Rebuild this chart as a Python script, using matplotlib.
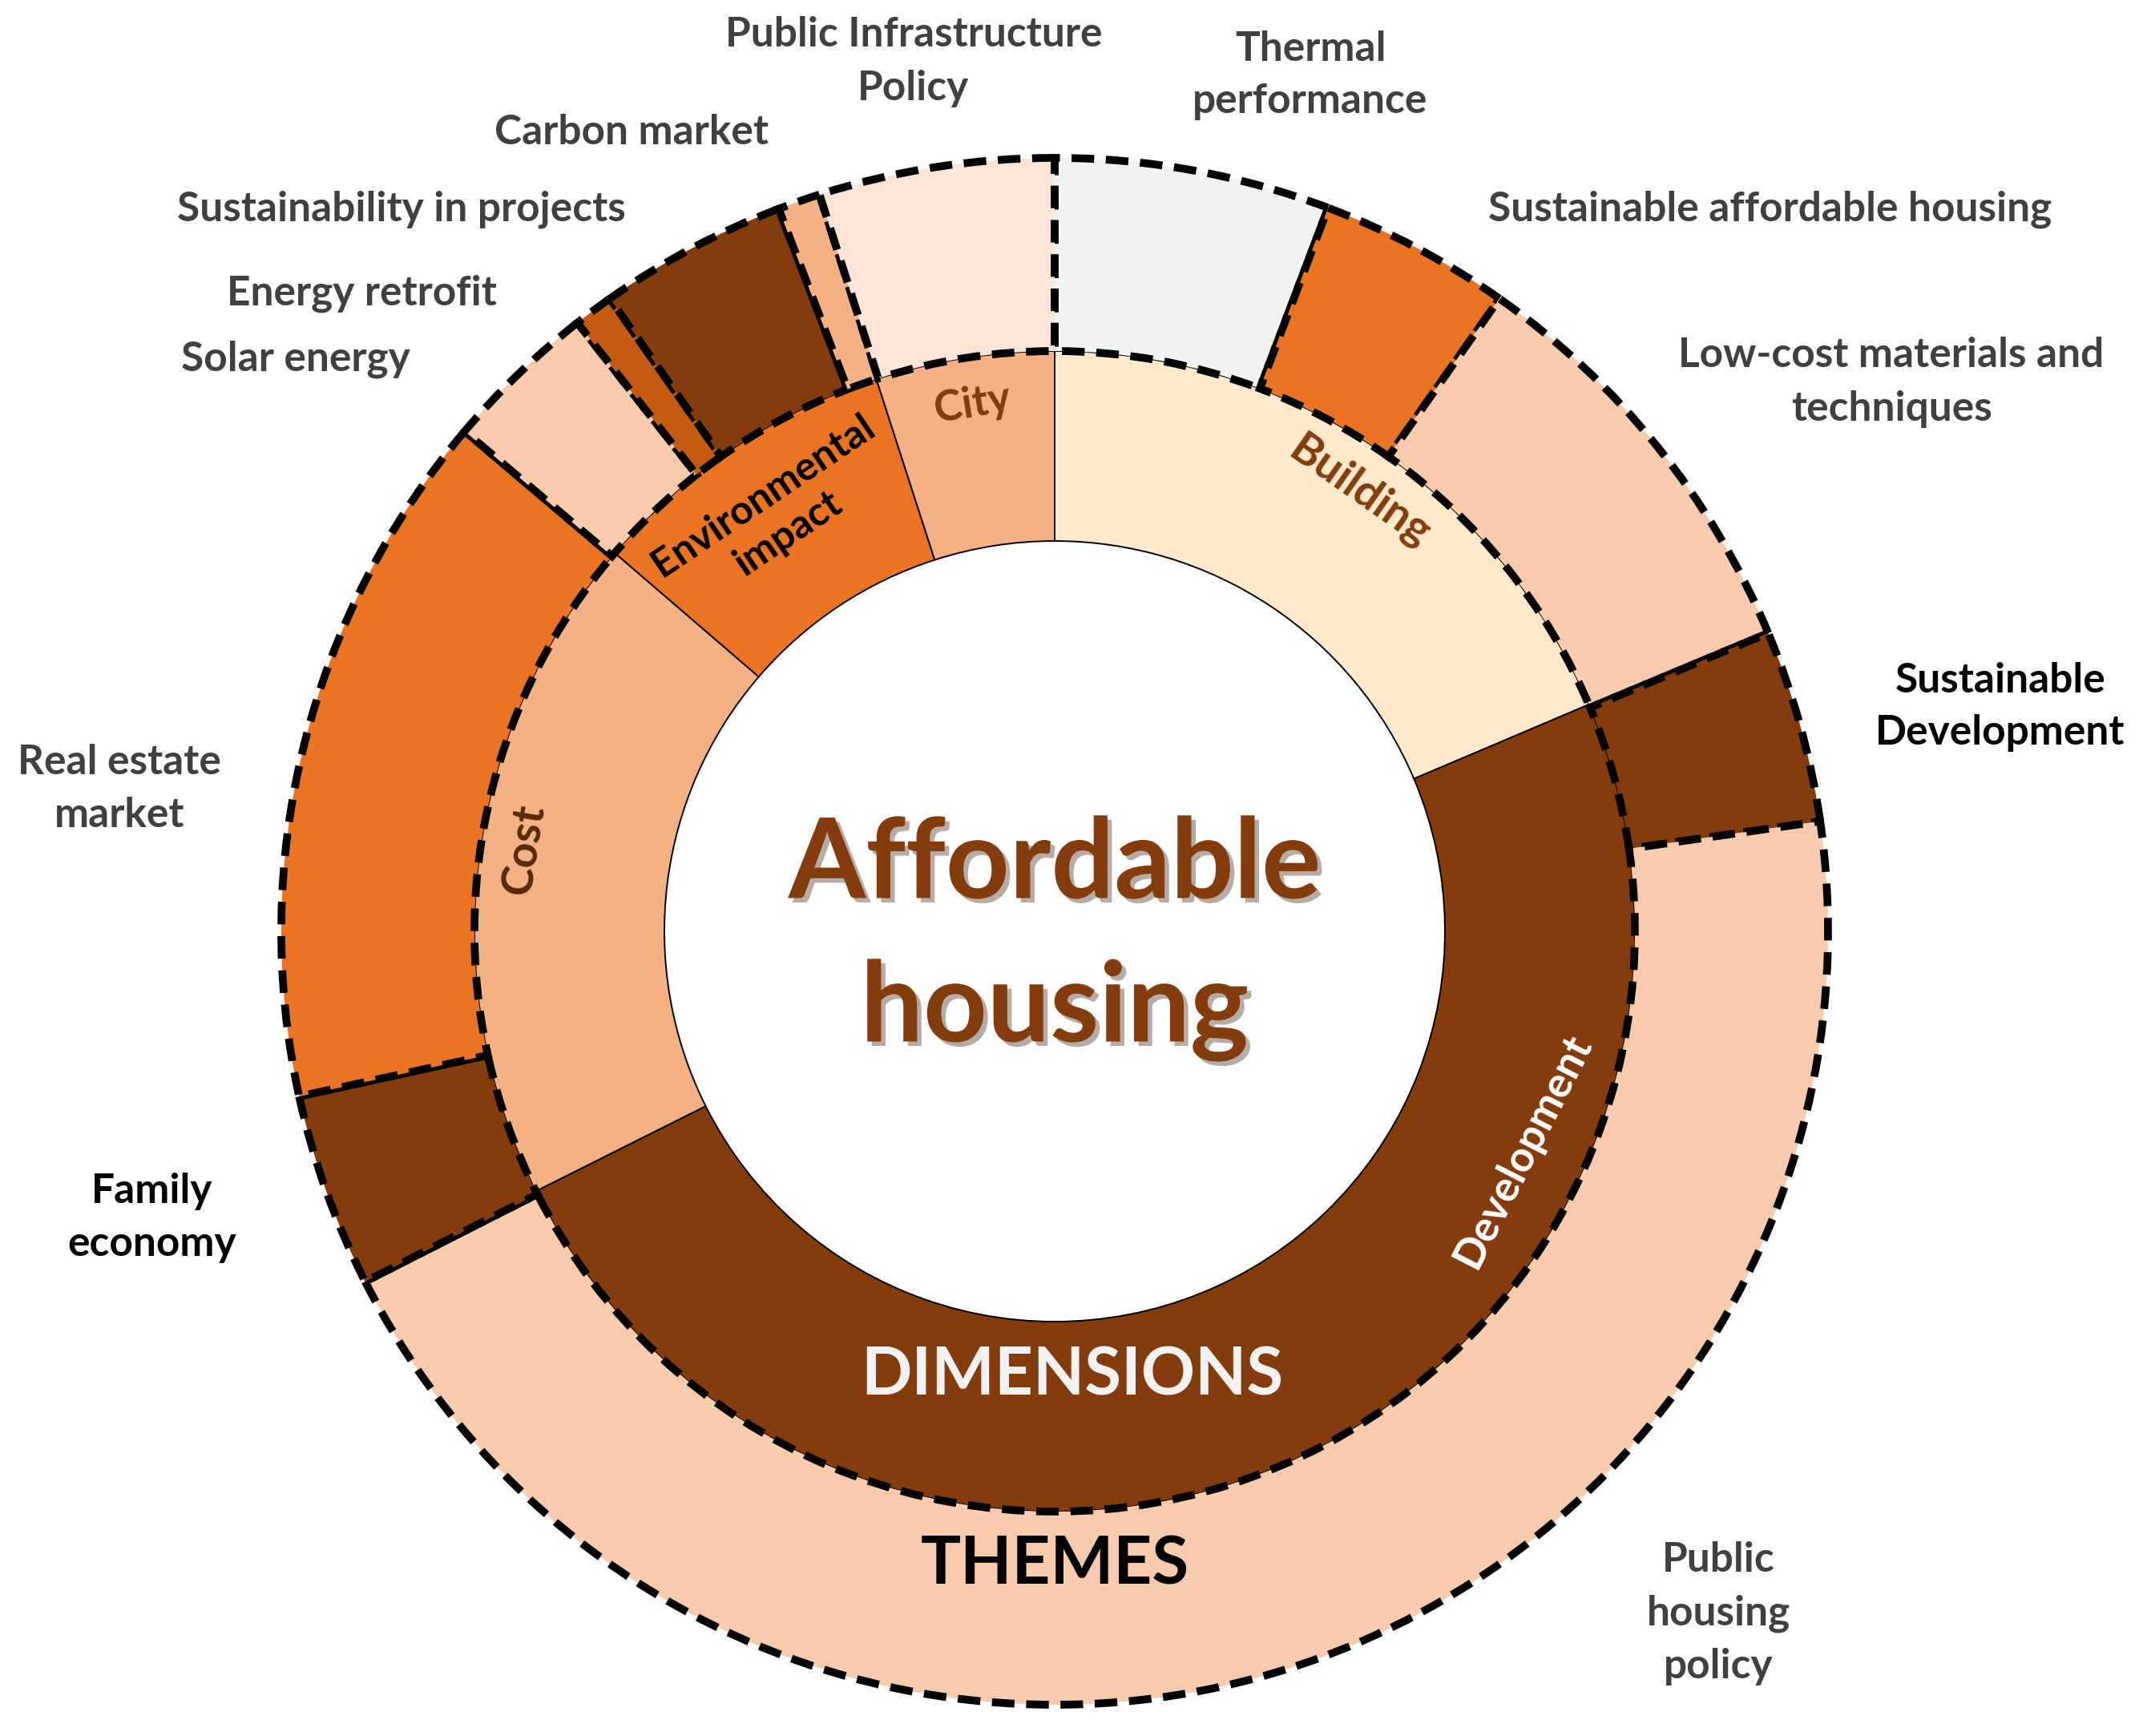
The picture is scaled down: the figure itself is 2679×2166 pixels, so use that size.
import numpy as np
import matplotlib.pyplot as plt
import matplotlib.patheffects as pe

plt.rcParams['font.family'] = ['Lato', 'DejaVu Sans']

# inner ring: dimensions, clockwise from 12 o'clock (share of the circle, in degrees)
dim_labels = ['Building', 'Development', 'Cost', 'Environmental\nimpact', 'City']
dim_sizes = [67.0, 176.4, 67.3, 31.4, 17.9]
dim_colors = ['#FEE9CB', '#843C0C', '#F4B183', '#EB7423', '#F4B183']

# outer ring: themes, clockwise from 12 o'clock
theme_labels = ['Thermal\nperformance', 'Sustainable affordable housing',
                'Low-cost materials and\ntechniques', 'Sustainable\nDevelopment',
                'Public\nhousing\npolicy', 'Family\neconomy', 'Real estate\nmarket',
                'Solar energy', 'Energy retrofit', 'Sustainability in projects',
                'Carbon market', 'Public Infrastructure\nPolicy']
theme_sizes = [20.7, 14.4, 32.2, 14.5, 161.2, 14.6, 52.6, 11.6, 3.0, 14.2, 3.2, 17.7]
theme_colors = ['#F2F2F2', '#EB7423', '#F8CBAD', '#843C0C', '#F8CBAD', '#843C0C',
                '#EB7423', '#F8CBAD', '#C55A11', '#843C0C', '#F4B183', '#FBE5D6']

W, H = 2679, 2166
cx, cy = 1316, H - 1162
r_hole, r_mid, r_out = 487, 724, 965

fig = plt.figure(figsize=(W / 100, H / 100), dpi=100)
ax = fig.add_axes([0, 0, 1, 1])

ax.pie(dim_sizes, radius=r_mid, center=(cx, cy), startangle=90, counterclock=False,
       colors=dim_colors,
       wedgeprops=dict(width=r_mid - r_hole, edgecolor='black', linewidth=1.4))
ax.pie(theme_sizes, radius=r_out, center=(cx, cy), startangle=90, counterclock=False,
       colors=theme_colors,
       wedgeprops=dict(width=r_out - r_mid, edgecolor='black', linewidth=7,
                       linestyle=(0, (2.9, 1.5))))

ax.set_xlim(0, W)
ax.set_ylim(0, H)
ax.set_aspect('equal')
ax.axis('off')

# theme labels around the chart (x, y in image pixels, colour)
theme_text = [(1635, 94, '#404040'), (2209, 261, '#404040'), (2360, 477, '#404040'),
              (2496, 882, 'black'), (2144, 2013, '#404040'), (190, 1519, 'black'),
              (149, 984, '#404040'), (369, 448, '#404040'), (451, 366, '#404040'),
              (501, 261, '#404040'), (788, 166, '#404040'), (1140, 77, '#404040')]
for lab, (x, y, c) in zip(theme_labels, theme_text):
    ax.text(x, H - y, lab, ha='center', va='center', fontsize=37, fontweight='bold',
            color=c, linespacing=1.5)

# dimension labels inside the inner ring (x, y, rotation, colour, size)
dim_text = [(1697, 613, -35, '#843C0C', 40), (1900, 1436, 63, 'white', 38),
            (654, 1059, 81, '#5A2A08', 40), (968, 642, 34, 'black', 36),
            (1213, 504, 9, '#843C0C', 38)]
for lab, (x, y, rot, c, fs) in zip(dim_labels, dim_text):
    ax.text(x, H - y, lab, ha='center', va='center', rotation=rot, fontsize=fs,
            fontweight='bold', color=c, linespacing=1.3, rotation_mode='anchor')

shadow = [pe.SimplePatchShadow(offset=(4, -4), alpha=0.35), pe.Normal()]
ax.text(cx, H - 1080, 'Affordable', ha='center', va='center', fontsize=100,
        fontweight='bold', color='#843C0C', path_effects=shadow)
ax.text(cx, H - 1260, 'housing', ha='center', va='center', fontsize=100,
        fontweight='bold', color='#843C0C', path_effects=shadow)
ax.text(1338, H - 1717, 'DIMENSIONS', ha='center', va='center', fontsize=60,
        fontweight='bold', color='#F2F2F2')
ax.text(cx, H - 1953, 'THEMES', ha='center', va='center', fontsize=60,
        fontweight='bold', color='black')

fig.savefig('out.png', dpi=100)
